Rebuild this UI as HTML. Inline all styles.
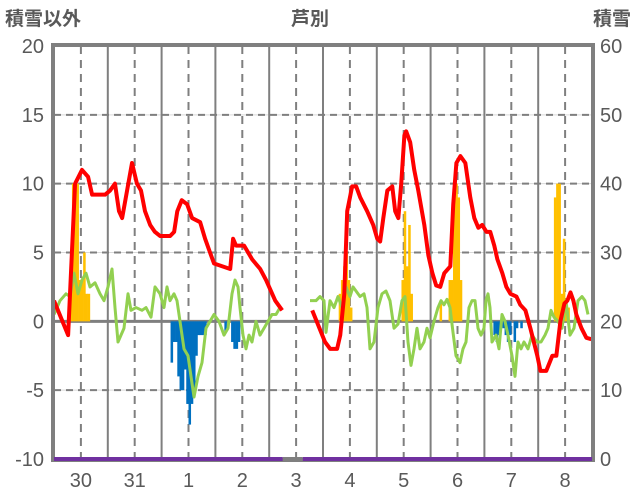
<!DOCTYPE html>
<html><head><meta charset="utf-8"><style>
html,body{margin:0;padding:0;background:#fff;}
svg{display:block;font-family:"Liberation Sans","Noto Sans CJK JP",sans-serif;}
</style></head><body>
<svg id="chart" width="636" height="501" viewBox="0 0 636 501" xmlns="http://www.w3.org/2000/svg">
<text x="5" y="25" font-size="19" font-weight="bold" fill="#595959">積雪以外</text>
<text x="310" y="25" font-size="19" font-weight="bold" fill="#595959" text-anchor="middle">芦別</text>
<text x="631" y="25" font-size="19" font-weight="bold" fill="#595959" text-anchor="end">積雪</text>
<g id="grid"></g>
<g id="bars"></g>
<g id="lines"></g>
<g id="axes"></g>
</svg>
<script>
const dayLabels=["30","31","1","2","3","4","5","6","7","8"];
const leftTicks=[20,15,10,5,0,-5,-10];
const rightTicks=[60,50,40,30,20,10,0];
const tempSeg1Hours=[0,6.3,9.4,12.5,15.2,17,22.8,25,27.2,29,30.4,32.6,34.8,37,38.8,40.6,42.9,45,47.3,51.8,53.6,55,57,59.4,61.6,65.2,67.4,69.6,71.4,75,78.6,79.9,81.2,84.8,86.6,88.4,92,94.6,98.7,101.8];
const tempSeg1Values=[1.5,-1,10,11,10.5,9.2,9.2,9.5,10,8,7.5,9.5,11.5,10,9.5,8,7,6.5,6.2,6.2,6.5,8,8.8,8.5,7.5,7.2,6,5,4.2,4,3.8,6,5.5,5.5,5,4.5,3.8,3,1.5,0.8];
const tempSeg2Hours=[115.2,120.9,123.2,126.3,127.7,129.5,130.8,133,134.8,136.6,139.7,142.4,144.2,145.5,146.9,148.7,150.9,152.2,153.6,154.9,156.3,157.1,158.9,160.7,162.5,165.2,167,168.8,170.5,172.3,174.1,176.8,178.1,179.5,181.3,183.5,185.7,187.5,189.3,191,192.9,194.6,196.4,197.8,200,201.8,203.6,206.3,208,210.3,212.5,215.6,217,219.6,222.3,224.1,225.9,227.7,229,230.4,231.7,233,235.3,237.5,239.7];
const tempSeg2Values=[0.8,-1.5,-2,-2,-1,2,8,9.8,9.8,9,8,7,6,5.8,7.5,9.5,9.8,8,7.5,10,13.5,13.8,13,11,9.5,7,4.8,3.5,2.6,2.5,3.5,4,8.5,11.5,12,11.5,9,7.5,6.8,7,6.5,6.5,5.5,4.5,3.5,2.5,2,1.8,1.2,0.8,-0.5,-2.5,-3.6,-3.6,-2.5,-2.5,0,1.3,1.5,2.1,1.5,0.5,-0.5,-1.2,-1.3];
const greenSeg1X=[54,60,66,70,74,78,82,86,90,95,100,104,108,112,115,118,121,124,128,131,136,142,146,151,155,160,164,167,170,174,177,180,184,188,191,194,198,202,206,210,214,219,224,228,232,235,238,240,243,246,249,252,256,260,264,268,272,276,280];
const greenSeg1Values=[0.5,1.5,2,1.8,3.5,2,3,3.5,2.5,2.8,2,1.5,2.5,3.8,1,-1.5,-1,-0.5,2,0.8,1,0.8,1,0.3,2.5,2,1,2.5,1.5,2,1.5,0,-2,-2.5,-4,-5.5,-4,-3,-0.5,0,0.5,0,-1,-0.5,2,3,2.5,1,-1,-2,-1,-1.5,0,-1,-0.5,0,0.5,0.5,1];
const greenSeg2X=[310,316,320,324,326,330,334,338,342,346,350,353,356,360,364,367,370,374,378,382,386,390,394,398,402,405,408,411,414,417,420,424,427,430,434,438,441,444,447,450,453,456,460,463,466,469,472,475,478,481,484,486,488,490,492,496,499,502,505,508,512,515,518,521,524,528,532,537,541,545,548,551,554,558,562,566,570,574,578,582,585,588];
const greenSeg2Values=[1.5,1.5,1.8,1.5,-0.8,1.5,1,1.8,1,2.5,1.8,2.5,2.2,1.8,2,1,-2,-1.5,1,2,2.2,1.5,-0.5,-0.2,1.5,1.8,-1.5,-3.2,-2,-0.5,-2,-1.5,-0.5,-1.2,0,1,1.5,1.2,1.6,1,-0.8,-2.5,-3,-2,-1.5,1,1.5,1.5,-0.5,-1,-0.5,1.5,2,1,-1.5,-1,-2,0.5,0,-1,-2.5,-4,-1.5,-2,-1.5,-2,-1,-1.5,-1.5,-1,-0.5,0.8,0.3,0,-0.5,1.5,-1,-0.5,1.5,1.8,1.5,0.5];
const posBarHours=[7,8,9,10,11,12,13,14,15,127,128,129,130,131,132,155,156,157,158,159,172,176,177,178,179,180,181,223,224,225,226,227,228,229];
const posBarValues=[3,10,10,10,3,3,5,2,2,2,3,4,5,3,1,3,8,4,7,2,1.5,3,3,10,10,9,3,9,10,10,2,6,1,1];
const negBarHours=[52,53,54,55,56,57,58,59,60,61,62,63,64,65,66,67,76,79,80,81,82,196,197,198,200,201,202,203,205,206,208];
const negBarValues=[-3,-1.5,-1.5,-4,-5,-5,-3.5,-6,-7.5,-6,-5.5,-2.5,-1,-1,-1,-1,-0.8,-1.5,-2,-2,-1.5,-1,-1.5,-1,-0.5,-1,-1.5,-1,-1.5,-0.5,-0.5];
const snowSegStartHours=[0,111];
const snowSegEndHours=[102,240];
const snowValues=[0,0];

const NS="http://www.w3.org/2000/svg";
const X0=54,X1=592,Y0=459,Y1=46;
const xH=h=>X0+h*(X1-X0)/240;
const yL=v=>Y0-(v+10)*(Y0-Y1)/30;
const yR=v=>Y0-v*(Y0-Y1)/60;
function mk(tag,attrs,parent){const e=document.createElementNS(NS,tag);for(const k in attrs)e.setAttribute(k,attrs[k]);parent.appendChild(e);return e;}
const grid=document.getElementById('grid'),bars=document.getElementById('bars'),lines=document.getElementById('lines'),axes=document.getElementById('axes');

leftTicks.forEach(v=>{
  if(v===0||v===-10||v===20)return;
  const l=mk('line',{x1:X0,x2:X1,y1:yL(v),y2:yL(v),stroke:'#d9d9d9','stroke-width':1},grid);
  
  
  const d=mk('line',{x1:X0,x2:X1,y1:yL(v),y2:yL(v),stroke:'#7f7f7f','stroke-width':2,'stroke-dasharray':'7,5'},grid);
  
  
});
for(let i=0;i<10;i++){
  if(i>0){const s=mk('line',{x1:xH(i*24),x2:xH(i*24),y1:Y1,y2:Y0,stroke:'#7f7f7f','stroke-width':2},grid);
  
  }
  const d=mk('line',{x1:xH(i*24+12),x2:xH(i*24+12),y1:Y1,y2:Y0,stroke:'#7f7f7f','stroke-width':2,'stroke-dasharray':'8,6'},grid);
  
  
}
const zl=mk('line',{x1:X0,x2:X1,y1:yL(0),y2:yL(0),stroke:'#7f7f7f','stroke-width':3},grid);



posBarHours.forEach((h,i)=>{const v=posBarValues[i];
  const r=mk('rect',{x:xH(h),y:yL(v),width:xH(1)-X0+0.3,height:yL(0)-yL(v),fill:'#ffc000'},bars);
  
  });
negBarHours.forEach((h,i)=>{const v=negBarValues[i];
  const r=mk('rect',{x:xH(h),y:yL(0),width:xH(1)-X0+0.3,height:yL(v)-yL(0),fill:'#0070c0'},bars);
  
  });

function pl(xs,ys,color,w,name){
  const p=mk('polyline',{points:xs.map((x,i)=>x+','+ys[i]).join(' '),fill:'none',stroke:color,'stroke-width':w,'stroke-linejoin':'round'},lines);
  
  
}
pl(greenSeg1X,greenSeg1Values.map(yL),'#92d050',3,'green-series-line');
pl(greenSeg2X,greenSeg2Values.map(yL),'#92d050',3,'green-series-line');
pl(tempSeg1Hours.map(xH),tempSeg1Values.map(yL),'#ff0000',4,'red-series-line');
pl(tempSeg2Hours.map(xH),tempSeg2Values.map(yL),'#ff0000',4,'red-series-line');

const gap=mk('line',{x1:xH(snowSegEndHours[0]),x2:xH(snowSegStartHours[1]),y1:Y0,y2:Y0,stroke:'#7f7f7f','stroke-width':4},lines);



const fr=mk('rect',{x:X0-1,y:Y1-1,width:X1-X0+2,height:Y0-Y1+2,fill:'none',stroke:'#7f7f7f','stroke-width':4},axes);


snowSegStartHours.forEach((h,i)=>{
  const s=mk('line',{x1:xH(h),x2:xH(snowSegEndHours[i]),y1:yR(snowValues[i]),y2:yR(snowValues[i]),stroke:'#7030a0','stroke-width':4},axes);
  
  
});

leftTicks.forEach(v=>{const t=mk('text',{x:44,y:yL(v)+7,'font-size':20,fill:'#595959','text-anchor':'end'},axes);t.textContent=v;
  
  });
rightTicks.forEach(v=>{const t=mk('text',{x:600,y:yR(v)+7,'font-size':20,fill:'#595959'},axes);t.textContent=v;
  
  });
dayLabels.forEach((d,i)=>{const t=mk('text',{x:xH(i*24+12),y:487,'font-size':20,fill:'#595959','text-anchor':'middle'},axes);t.textContent=d;
  
  });
</script>
</body></html>
